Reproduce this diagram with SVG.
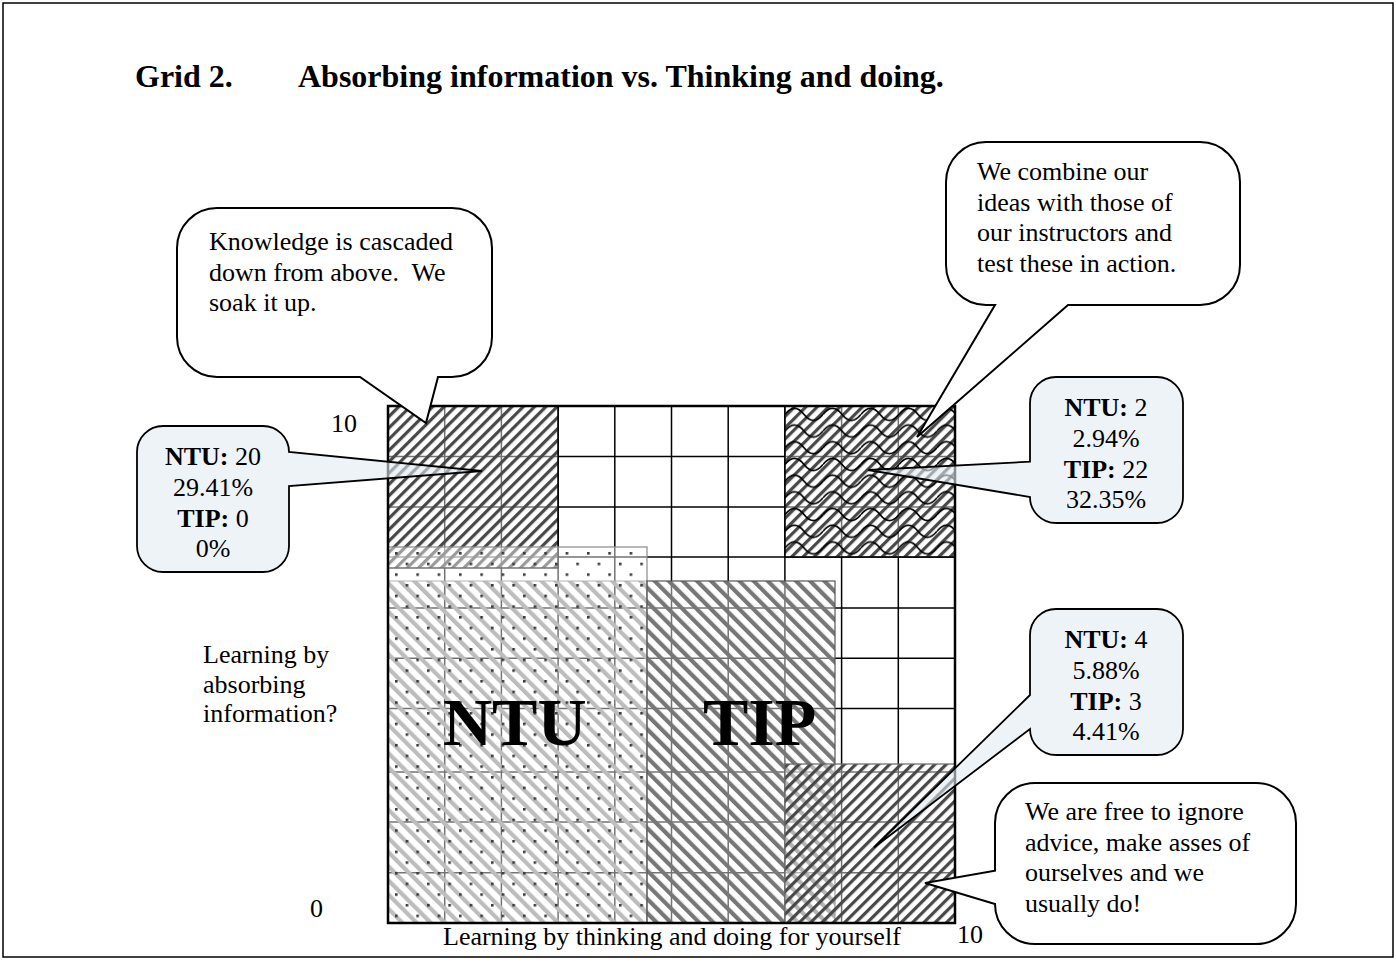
<svg xmlns="http://www.w3.org/2000/svg" width="1396" height="975" viewBox="0 0 1396 975">
  <style>
    text { font-family: "Liberation Serif", "Times New Roman", serif; fill: #000; }
    .title { font-size: 32px; font-weight: bold; }
    .lbl { font-size: 26px; }
    .big { font-size: 68px; font-weight: bold; }
    .stat { font-size: 26px; text-anchor: middle; }
    .b { font-weight: bold; }
    .grid line { stroke: #000; stroke-width: 1.5; }
    .say { fill: #fff; stroke: #000; stroke-width: 2; stroke-linejoin: miter; }
    .statbox { fill: #e2ebf4; fill-opacity: 0.6; stroke: #000; stroke-width: 1.8; }
  </style>
  <defs>
    <!-- dark forward-slash hatch -->
    <pattern id="hatchDark" width="8" height="8" patternUnits="userSpaceOnUse" patternTransform="rotate(45)">
      <rect width="8" height="8" fill="#fff" fill-opacity="0.45"/>
      <rect width="3.2" height="8" fill="#484848"/>
    </pattern>
    <!-- mid-grey back-slash hatch -->
    <pattern id="hatchMid" width="10" height="10" patternUnits="userSpaceOnUse" patternTransform="rotate(-45)">
      <rect width="10" height="10" fill="#fff" fill-opacity="0.45"/>
      <rect width="4.2" height="10" fill="#777"/>
    </pattern>
    <!-- back-slash hatch lying under the dotted area -->
    <pattern id="hatchPale" width="10" height="10" patternUnits="userSpaceOnUse" patternTransform="rotate(-45)">
      <rect width="4.2" height="10" fill="#878787"/>
    </pattern>
    <!-- staggered dots -->
    <pattern id="dots" width="21.33" height="21.33" patternUnits="userSpaceOnUse" x="395" y="552">
      <rect width="21.33" height="21.33" fill="#fff" fill-opacity="0.45"/>
      <rect x="0" y="0" width="2.6" height="2.6" fill="#3a3a3a"/>
      <rect x="10.67" y="10.67" width="2.6" height="2.6" fill="#3a3a3a"/>
    </pattern>
    <!-- wavy lines -->
    <pattern id="waves" width="38" height="16.7" patternUnits="userSpaceOnUse" x="785" y="406">
      <path d="M0 8.35 Q9.5 -3.65 19 8.35 T38 8.35" fill="none" stroke="#000" stroke-width="1.7"/>
    </pattern>
  </defs>

  <!-- page frame -->
  <rect x="3" y="3" width="1390" height="954" fill="#fff" stroke="#000" stroke-width="1.5"/>

  <!-- heading -->
  <g id="heading">
    <text class="title" x="135" y="87">Grid 2.</text>
    <text class="title" x="298" y="87">Absorbing information vs. Thinking and doing.</text>
  </g>

  <!-- 10 x 10 grid -->
  <g id="grid" class="grid">
    <line x1="444.7" y1="406" x2="444.7" y2="923"/>
    <line x1="501.4" y1="406" x2="501.4" y2="923"/>
    <line x1="558.1" y1="406" x2="558.1" y2="923"/>
    <line x1="614.8" y1="406" x2="614.8" y2="923"/>
    <line x1="671.5" y1="406" x2="671.5" y2="923"/>
    <line x1="728.2" y1="406" x2="728.2" y2="923"/>
    <line x1="784.9" y1="406" x2="784.9" y2="923"/>
    <line x1="841.6" y1="406" x2="841.6" y2="923"/>
    <line x1="898.3" y1="406" x2="898.3" y2="923"/>
    <line x1="388" y1="456.5" x2="955" y2="456.5"/>
    <line x1="388" y1="507" x2="955" y2="507"/>
    <line x1="388" y1="557" x2="955" y2="557"/>
    <line x1="388" y1="608" x2="955" y2="608"/>
    <line x1="388" y1="658.3" x2="955" y2="658.3"/>
    <line x1="388" y1="708.5" x2="955" y2="708.5"/>
    <line x1="388" y1="772" x2="955" y2="772"/>
    <line x1="388" y1="822" x2="955" y2="822"/>
    <line x1="388" y1="872.7" x2="955" y2="872.7"/>
  </g>

  <!-- shaded areas -->
  <g id="area-absorb">
    <rect x="388" y="406" width="170.1" height="162" fill="url(#hatchDark)" stroke="#000" stroke-width="1.5"/>
  </g>
  <g id="area-combine">
    <rect x="784.9" y="406" width="170.1" height="151" fill="url(#hatchDark)" stroke="#000" stroke-width="1.5"/>
    <rect x="784.9" y="406" width="170.1" height="151" fill="url(#waves)"/>
  </g>
  <g id="area-ntu">
    <rect x="388" y="581" width="259" height="342" fill="url(#hatchPale)" stroke="#777" stroke-width="1"/>
    <rect x="388" y="547" width="259" height="376" fill="url(#dots)" stroke="#8a8a8a" stroke-width="1.2"/>
    <text class="big" x="443" y="745">NTU</text>
  </g>
  <g id="area-tip">
    <rect x="647" y="581" width="188" height="342" fill="url(#hatchMid)" stroke="#555" stroke-width="1.2"/>
    <text class="big" x="703" y="745">TIP</text>
  </g>
  <g id="area-free">
    <rect x="784.9" y="764" width="170.1" height="159" fill="url(#hatchDark)" stroke="#666" stroke-width="1.2"/>
  </g>

  <!-- grid outline -->
  <rect x="388" y="406" width="567" height="517" fill="none" stroke="#000" stroke-width="2.5"/>

  <!-- axis labels -->
  <g id="axes">
    <text class="lbl" x="331" y="432">10</text>
    <text class="lbl" x="310" y="917">0</text>
    <text class="lbl" x="443" y="945">Learning by thinking and doing for yourself</text>
    <text class="lbl" x="957" y="943">10</text>
    <text class="lbl" x="203" y="663">Learning by</text>
    <text class="lbl" x="203" y="693">absorbing</text>
    <text class="lbl" x="203" y="722">information?</text>
  </g>

  <!-- speech callouts -->
  <g id="callout-knowledge">
    <path class="say" d="M217 208 H452 A40 40 0 0 1 492 248 V337 A40 40 0 0 1 452 377 H438 L426 423 L360 377 H217 A40 40 0 0 1 177 337 V248 A40 40 0 0 1 217 208 Z"/>
    <text class="lbl" x="209" y="250">Knowledge is cascaded</text>
    <text class="lbl" x="209" y="280.5" xml:space="preserve">down from above.  We</text>
    <text class="lbl" x="209" y="311">soak it up.</text>
  </g>
  <g id="callout-combine">
    <path class="say" d="M986 142 H1200 A40 40 0 0 1 1240 182 V265 A40 40 0 0 1 1200 305 H1068 L917 437 L995 305 H986 A40 40 0 0 1 946 265 V182 A40 40 0 0 1 986 142 Z"/>
    <text class="lbl" x="977" y="180">We combine our</text>
    <text class="lbl" x="977" y="210.5">ideas with those of</text>
    <text class="lbl" x="977" y="241">our instructors and</text>
    <text class="lbl" x="977" y="271.5">test these in action.</text>
  </g>
  <g id="callout-free">
    <path class="say" d="M1035 783 H1256 A40 40 0 0 1 1296 823 V904 A40 40 0 0 1 1256 944 H1035 A40 40 0 0 1 995 904 L925 883 L995 870.7 V823 A40 40 0 0 1 1035 783 Z"/>
    <text class="lbl" x="1025" y="820">We are free to ignore</text>
    <text class="lbl" x="1025" y="850.5">advice, make asses of</text>
    <text class="lbl" x="1025" y="881">ourselves and we</text>
    <text class="lbl" x="1025" y="911.5">usually do!</text>
  </g>

  <!-- count callouts -->
  <g id="stat-absorb">
    <path class="statbox" d="M163 426 H263 A26 26 0 0 1 289 452 L482 471 L289 486 V546 A26 26 0 0 1 263 572 H163 A26 26 0 0 1 137 546 V452 A26 26 0 0 1 163 426 Z"/>
    <text class="stat" x="213" y="465"><tspan class="b">NTU:</tspan> 20</text>
    <text class="stat" x="213" y="495.8">29.41%</text>
    <text class="stat" x="213" y="526.6"><tspan class="b">TIP:</tspan> 0</text>
    <text class="stat" x="213" y="557.4">0%</text>
  </g>
  <g id="stat-combine">
    <path class="statbox" d="M1056 377 H1157 A26 26 0 0 1 1183 403 V497 A26 26 0 0 1 1157 523 H1056 A26 26 0 0 1 1030 497 L868 470 L1030 461.7 V403 A26 26 0 0 1 1056 377 Z"/>
    <text class="stat" x="1106" y="416"><tspan class="b">NTU:</tspan> 2</text>
    <text class="stat" x="1106" y="446.8">2.94%</text>
    <text class="stat" x="1106" y="477.6"><tspan class="b">TIP:</tspan> 22</text>
    <text class="stat" x="1106" y="508.4">32.35%</text>
  </g>
  <g id="stat-free">
    <path class="statbox" d="M1056 609 H1157 A26 26 0 0 1 1183 635 V729 A26 26 0 0 1 1157 755 H1056 A26 26 0 0 1 1030 729 L874 847.5 L1030 695 V635 A26 26 0 0 1 1056 609 Z"/>
    <text class="stat" x="1106" y="648"><tspan class="b">NTU:</tspan> 4</text>
    <text class="stat" x="1106" y="678.8">5.88%</text>
    <text class="stat" x="1106" y="709.6"><tspan class="b">TIP:</tspan> 3</text>
    <text class="stat" x="1106" y="740.4">4.41%</text>
  </g>
</svg>
